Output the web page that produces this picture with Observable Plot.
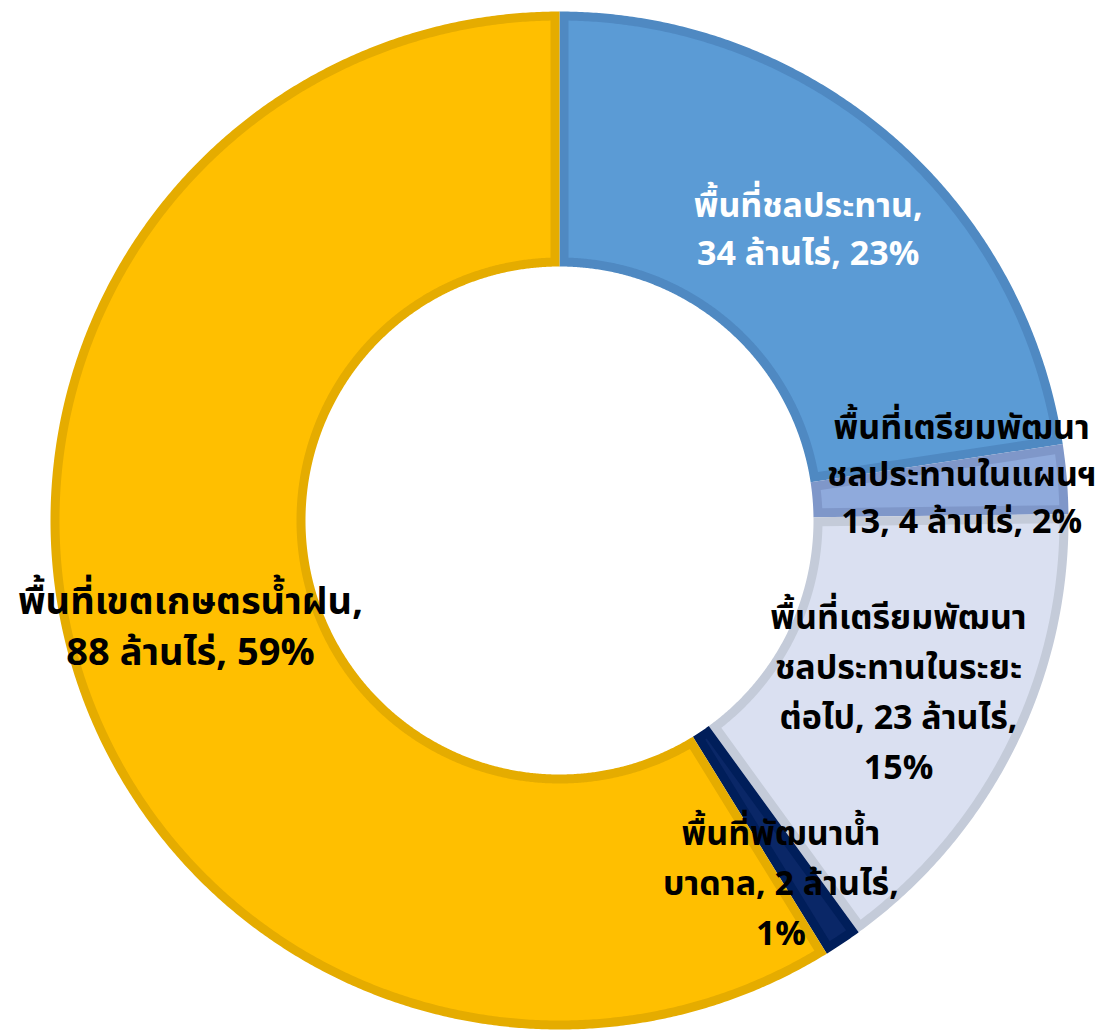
<!DOCTYPE html>
<html>
<head>
<meta charset="utf-8">
<script src="https://cdn.jsdelivr.net/npm/d3@7"></script>
<script src="https://cdn.jsdelivr.net/npm/@observablehq/plot@0.6"></script>
<style>
  html, body { margin: 0; padding: 0; background: #ffffff; }
  #chart svg { display: block; }
</style>
</head>
<body>
<div id="chart"></div>
<script>
// ---- Data ----
const categories = [
  "พื้นที่ชลประทาน",
  "พื้นที่เตรียมพัฒนาชลประทานในแผนฯ 13",
  "พื้นที่เตรียมพัฒนาชลประทานในระยะต่อไป",
  "พื้นที่พัฒนาน้ำบาดาล",
  "พื้นที่เขตเกษตรน้ำฝน"
];
const areaMillionRai = [34, 4, 23, 2, 88];
const sharePercent = [22.6, 2.2, 15.2, 1.2, 58.8];   // slice shares measured from the arcs
const labelPercent = ["23%", "2%", "15%", "1%", "59%"];
const labelLines = [
  ["พื้นที่ชลประทาน,", "34 ล้านไร่, 23%"],
  ["พื้นที่เตรียมพัฒนา", "ชลประทานในแผนฯ", "13, 4 ล้านไร่, 2%"],
  ["พื้นที่เตรียมพัฒนา", "ชลประทานในระยะ", "ต่อไป, 23 ล้านไร่,", "15%"],
  ["พื้นที่พัฒนาน้ำ", "บาดาล, 2 ล้านไร่,", "1%"],
  ["พื้นที่เขตเกษตรน้ำฝน,", "88 ล้านไร่, 59%"]
];
const fillColors   = ["#5B9BD5", "#8FAADC", "#DAE0F1", "#0A2767", "#FFBF00"];
const borderColors = ["#4F89C2", "#7F97C9", "#C4CBD9", "#001E5A", "#E5AC00"];
const labelColors  = ["#FFFFFF", "#000000", "#000000", "#000000", "#000000"];

// ---- Layout (styles) ----
const W = 1096, H = 1030;
const CX = 559, CY = 520;
const R_OUT = 509, R_IN = 254, BORDER = 9;
const labelStyle = [
  {fontSize: 34, lineHeight: 48 / 34, dx: 0, dy: -6},
  {fontSize: 34, lineHeight: 47 / 34, dx: 22, dy: -18},
  {fontSize: 34, lineHeight: 50 / 34, dx: -2, dy: -4},
  {fontSize: 34, lineHeight: 50 / 34, dx: 9, dy: 42},
  {fontSize: 38, lineHeight: 51 / 38, dx: -2, dy: -1}
];

const pie = d3.pie().sort(null).value(d => d)(sharePercent);

function ringPoints(a0, a1, r0, r1, inset) {
  const R1 = r1 - inset, R0 = r0 + inset;
  const o0 = a0 + inset / R1, o1 = a1 - inset / R1;
  const i0 = a0 + inset / R0, i1 = Math.max(i0, a1 - inset / R0);
  const pts = [];
  const n1 = Math.max(2, Math.ceil((o1 - o0) * 180));
  for (let k = 0; k <= n1; k++) {
    const a = o0 + (o1 - o0) * k / n1;
    pts.push({x: R1 * Math.sin(a), y: R1 * Math.cos(a)});
  }
  const n0 = Math.max(2, Math.ceil((i1 - i0) * 180));
  for (let k = n0; k >= 0; k--) {
    const a = i0 + (i1 - i0) * k / n0;
    pts.push({x: R0 * Math.sin(a), y: R0 * Math.cos(a)});
  }
  pts.push(pts[0]);
  return pts;
}

const marks = [];
pie.forEach((p, i) => {
  marks.push(Plot.line(ringPoints(p.startAngle, p.endAngle, R_IN, R_OUT, 0),
    {x: "x", y: "y", fill: borderColors[i], stroke: "none", curve: "linear"}));
  marks.push(Plot.line(ringPoints(p.startAngle, p.endAngle, R_IN, R_OUT, BORDER),
    {x: "x", y: "y", fill: fillColors[i], stroke: "none", curve: "linear"}));
});
pie.forEach((p, i) => {
  const mid = (p.startAngle + p.endAngle) / 2, r = (R_IN + R_OUT) / 2;
  const d = {x: r * Math.sin(mid), y: r * Math.cos(mid), text: labelLines[i].join("\n"), cat: categories[i], area: areaMillionRai[i], pct: labelPercent[i]};
  marks.push(Plot.text([d], {
    x: "x", y: "y", text: "text",
    fill: labelColors[i], fontWeight: "bold",
    fontSize: labelStyle[i].fontSize, lineHeight: labelStyle[i].lineHeight,
    dx: labelStyle[i].dx, dy: labelStyle[i].dy,
    textAnchor: "middle", lineAnchor: "middle"
  }));
});

const chart = Plot.plot({
  width: W, height: H,
  margin: 0,
  style: {fontFamily: "'Noto Sans Thai', 'Noto Sans', 'DejaVu Sans', sans-serif", background: "#ffffff"},
  x: {domain: [-CX, W - CX], axis: null},
  y: {domain: [-(H - CY), CY], axis: null},
  marks
});
document.getElementById("chart").appendChild(chart);
</script>
</body>
</html>
